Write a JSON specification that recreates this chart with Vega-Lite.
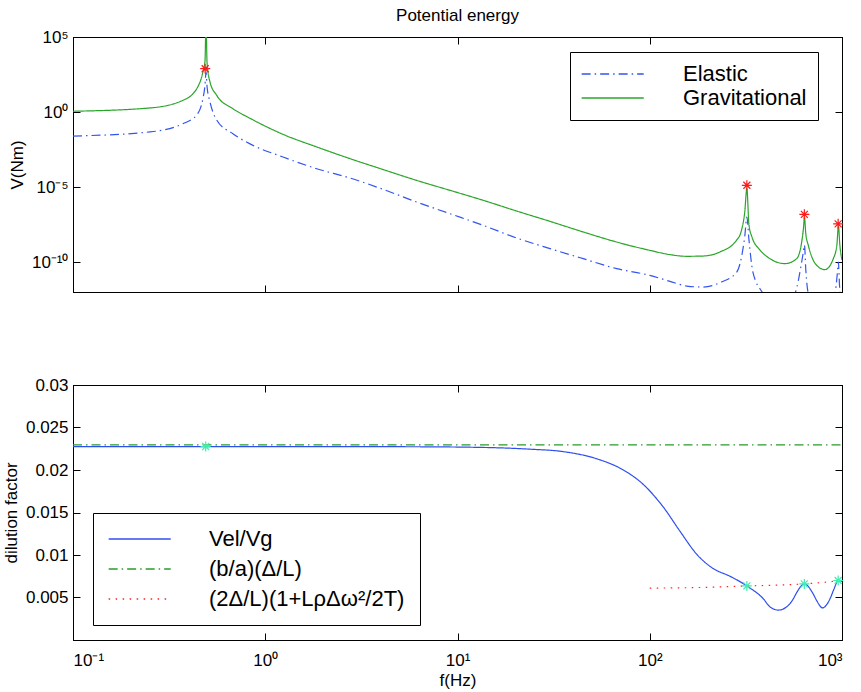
{
  "$schema": "https://vega.github.io/schema/vega-lite/v6.json",
  "background": "white",
  "padding": {"left": 1, "top": 6, "right": 4, "bottom": 0},
  "spacing": 82,
  "config": {
    "font": "Liberation Sans",
    "view": {"stroke": "black", "strokeWidth": 1},
    "axis": {
      "grid": false, "domainColor": "black", "tickColor": "black", "tickSize": -7,
      "labelColor": "black", "labelFontSize": 17, "titleFontSize": 17,
      "titleFontWeight": "normal", "titleColor": "black", "labelFont": "Liberation Sans",
      "titleFont": "Liberation Sans", "labelPadding": 12, "titlePadding": 5
    },
    "title": {"fontSize": 17, "fontWeight": "normal", "font": "Liberation Sans", "color": "black"}
  },
  "vconcat": [
    {
      "width": 769,
      "height": 255,
      "title": {"text": "Potential energy", "offset": 3},
      "layer": [
        {
          "data": {"values": [
            {"f": 0.1, "V": 1.12, "series": "Gravitational"},
            {"f": 0.2515, "V": 1.86, "series": "Gravitational"},
            {"f": 0.373, "V": 6.0, "series": "Gravitational"},
            {"f": 0.44, "V": 35.5, "series": "Gravitational"},
            {"f": 0.474, "V": 468, "series": "Gravitational"},
            {"f": 0.486, "V": 2512, "series": "Gravitational"},
            {"f": 0.492, "V": 1e6, "series": "Gravitational"},
            {"f": 0.498, "V": 1995, "series": "Gravitational"},
            {"f": 0.516, "V": 100, "series": "Gravitational"},
            {"f": 0.559, "V": 12.9, "series": "Gravitational"},
            {"f": 0.679, "V": 1.66, "series": "Gravitational"},
            {"f": 0.833, "V": 0.38, "series": "Gravitational"},
            {"f": 1.237, "V": 0.0324, "series": "Gravitational"},
            {"f": 1.852, "V": 4.68e-3, "series": "Gravitational"},
            {"f": 2.76, "V": 7.76e-4, "series": "Gravitational"},
            {"f": 4.11, "V": 1.45e-4, "series": "Gravitational"},
            {"f": 6.13, "V": 2.75e-5, "series": "Gravitational"},
            {"f": 9.14, "V": 6.0e-6, "series": "Gravitational"},
            {"f": 13.62, "V": 1.29e-6, "series": "Gravitational"},
            {"f": 20.3, "V": 2.5e-7, "series": "Gravitational"},
            {"f": 30.3, "V": 5.1e-8, "series": "Gravitational"},
            {"f": 45.1, "V": 1e-8, "series": "Gravitational"},
            {"f": 67.3, "V": 2.14e-9, "series": "Gravitational"},
            {"f": 100, "V": 6.0e-10, "series": "Gravitational"},
            {"f": 127.5, "V": 3.1e-10, "series": "Gravitational"},
            {"f": 155.7, "V": 2.4e-10, "series": "Gravitational"},
            {"f": 189, "V": 2.5e-10, "series": "Gravitational"},
            {"f": 232, "V": 4.7e-10, "series": "Gravitational"},
            {"f": 283.5, "V": 2.95e-9, "series": "Gravitational"},
            {"f": 300, "V": 1.29e-8, "series": "Gravitational"},
            {"f": 312, "V": 2.14e-7, "series": "Gravitational"},
            {"f": 320, "V": 7.9e-6, "series": "Gravitational"},
            {"f": 328, "V": 3.16e-8, "series": "Gravitational"},
            {"f": 340, "V": 4.7e-9, "series": "Gravitational"},
            {"f": 374.6, "V": 6.3e-10, "series": "Gravitational"},
            {"f": 422, "V": 1.66e-10, "series": "Gravitational"},
            {"f": 505, "V": 7.8e-11, "series": "Gravitational"},
            {"f": 581, "V": 1.66e-10, "series": "Gravitational"},
            {"f": 617, "V": 2.14e-9, "series": "Gravitational"},
            {"f": 630, "V": 1.66e-8, "series": "Gravitational"},
            {"f": 638, "V": 1e-7, "series": "Gravitational"},
            {"f": 648, "V": 7.8e-9, "series": "Gravitational"},
            {"f": 668, "V": 1.29e-9, "series": "Gravitational"},
            {"f": 738, "V": 6.0e-11, "series": "Gravitational"},
            {"f": 815, "V": 3.1e-11, "series": "Gravitational"},
            {"f": 901, "V": 1.66e-10, "series": "Gravitational"},
            {"f": 940, "V": 1.29e-9, "series": "Gravitational"},
            {"f": 958, "V": 2.5e-8, "series": "Gravitational"},
            {"f": 975, "V": 1.26e-9, "series": "Gravitational"},
            {"f": 1000, "V": 1.35e-10, "series": "Gravitational"},
            {"f": 0.1, "V": 0.025, "series": "Elastic"},
            {"f": 0.2515, "V": 0.047, "series": "Elastic"},
            {"f": 0.373, "V": 0.166, "series": "Elastic"},
            {"f": 0.44, "V": 0.63, "series": "Elastic"},
            {"f": 0.474, "V": 7.8, "series": "Elastic"},
            {"f": 0.486, "V": 63, "series": "Elastic"},
            {"f": 0.492, "V": 468, "series": "Elastic"},
            {"f": 0.498, "V": 50, "series": "Elastic"},
            {"f": 0.516, "V": 4.7, "series": "Elastic"},
            {"f": 0.559, "V": 0.295, "series": "Elastic"},
            {"f": 0.679, "V": 0.0355, "series": "Elastic"},
            {"f": 0.833, "V": 7.5e-3, "series": "Elastic"},
            {"f": 1.237, "V": 1e-3, "series": "Elastic"},
            {"f": 1.852, "V": 1.66e-4, "series": "Elastic"},
            {"f": 2.76, "V": 3.98e-5, "series": "Elastic"},
            {"f": 4.11, "V": 6.9e-6, "series": "Elastic"},
            {"f": 6.13, "V": 1e-6, "series": "Elastic"},
            {"f": 9.14, "V": 1.66e-7, "series": "Elastic"},
            {"f": 13.62, "V": 2.75e-8, "series": "Elastic"},
            {"f": 20.3, "V": 4e-9, "series": "Elastic"},
            {"f": 30.3, "V": 7.8e-10, "series": "Elastic"},
            {"f": 45.1, "V": 1.66e-10, "series": "Elastic"},
            {"f": 67.3, "V": 3.6e-11, "series": "Elastic"},
            {"f": 100, "V": 1.29e-11, "series": "Elastic"},
            {"f": 127.5, "V": 5.1e-12, "series": "Elastic"},
            {"f": 155.7, "V": 2.5e-12, "series": "Elastic"},
            {"f": 189, "V": 2.14e-12, "series": "Elastic"},
            {"f": 232, "V": 4.2e-12, "series": "Elastic"},
            {"f": 283.5, "V": 2.14e-11, "series": "Elastic"},
            {"f": 305.5, "V": 7.8e-10, "series": "Elastic"},
            {"f": 312, "V": 5e-9, "series": "Elastic"},
            {"f": 320, "V": 1e-7, "series": "Elastic"},
            {"f": 328, "V": 3.2e-9, "series": "Elastic"},
            {"f": 344, "V": 2.14e-11, "series": "Elastic"},
            {"f": 388, "V": 8e-13, "series": "Elastic"},
            {"f": 460, "V": 3.2e-14, "series": "Elastic"},
            {"f": 569.5, "V": 8e-13, "series": "Elastic"},
            {"f": 617, "V": 1e-10, "series": "Elastic"},
            {"f": 630, "V": 5e-10, "series": "Elastic"},
            {"f": 638, "V": 1.35e-9, "series": "Elastic"},
            {"f": 648, "V": 3.2e-11, "series": "Elastic"},
            {"f": 668, "V": 8e-13, "series": "Elastic"},
            {"f": 780, "V": 3.2e-14, "series": "Elastic"},
            {"f": 919, "V": 8e-13, "series": "Elastic"},
            {"f": 945, "V": 1.6e-11, "series": "Elastic"},
            {"f": 958, "V": 1e-10, "series": "Elastic"},
            {"f": 970, "V": 3.2e-12, "series": "Elastic"},
            {"f": 984, "V": 3.2e-13, "series": "Elastic"},
            {"f": 1000, "V": 1e-13, "series": "Elastic"}
          ]},
          "mark": {"type": "line", "clip": true, "strokeWidth": 1.2, "interpolate": "monotone"},
          "encoding": {
            "x": {"field": "f", "type": "quantitative",
                  "scale": {"type": "log", "domain": [0.1, 1000]},
                  "axis": {"values": [0.1, 1, 10, 100, 1000], "labels": false, "title": null}},
            "y": {"field": "V", "type": "quantitative",
                  "scale": {"type": "log", "domain": [1e-12, 1e5]},
                  "axis": {"values": [1e-10, 1e-5, 1, 1e5], "title": "V(Nm)",
                           "labelExpr": "datum.value < 1e-7 ? '10⁻¹⁰' : datum.value < 0.01 ? '10⁻⁵' : datum.value < 100 ? '10⁰' : '10⁵'"}},
            "color": {"field": "series", "type": "nominal",
                      "scale": {"domain": ["Elastic", "Gravitational"], "range": ["#3355ee", "#2aa52a"]},
                      "legend": {"title": null, "orient": "none", "legendX": 497, "legendY": 15,
                                 "symbolType": "M-1,0L5,0", "symbolSize": 428, "symbolStrokeWidth": 1.3,
                                 "labelFontSize": 22, "labelOffset": 80, "padding": 11, "rowPadding": 2,
                                 "strokeColor": "black", "fillColor": "white", "labelColor": "black",
                                 "labelFont": "Liberation Sans"}},
            "strokeDash": {"field": "series", "type": "nominal",
                           "scale": {"domain": ["Elastic", "Gravitational"], "range": [[9, 4, 1.5, 4], [1, 0]]},
                           "legend": {"title": null, "orient": "none", "legendX": 497, "legendY": 15,
                                      "symbolType": "M-1,0L5,0", "symbolSize": 428, "symbolStrokeWidth": 1.3,
                                      "labelFontSize": 22, "labelOffset": 80, "padding": 11, "rowPadding": 2,
                                      "strokeColor": "black", "fillColor": "white", "labelColor": "black",
                                      "labelFont": "Liberation Sans"}}
          }
        },
        {
          "data": {"values": [
            {"f": 0.487, "V": 770},
            {"f": 320, "V": 1.3e-5},
            {"f": 637, "V": 1.5e-7},
            {"f": 955, "V": 3.5e-8}
          ]},
          "mark": {"type": "point", "shape": "M-1,0L1,0M0,-1L0,1M-0.7,-0.7L0.7,0.7M-0.7,0.7L0.7,-0.7",
                   "filled": false, "size": 100, "strokeWidth": 1.2, "color": "#ff1a1a", "opacity": 1},
          "encoding": {
            "x": {"field": "f", "type": "quantitative",
                  "axis": {"orient": "top", "values": [0.1, 1, 10, 100, 1000], "labels": false, "title": null}},
            "y": {"field": "V", "type": "quantitative",
                  "axis": {"orient": "right", "values": [1e-10, 1e-5, 1, 1e5], "labels": false, "title": null}}
          }
        }
      ],
      "resolve": {"axis": {"x": "independent", "y": "independent"}}
    },
    {
      "width": 769,
      "height": 255,
      "layer": [
        {
          "data": {"values": [
            {"f": 0.1, "D": 0.02276, "series": "Vel/Vg"},
            {"f": 1, "D": 0.02276, "series": "Vel/Vg"},
            {"f": 5, "D": 0.02274, "series": "Vel/Vg"},
            {"f": 10, "D": 0.0227, "series": "Vel/Vg"},
            {"f": 23.8, "D": 0.02245, "series": "Vel/Vg"},
            {"f": 35.5, "D": 0.02216, "series": "Vel/Vg"},
            {"f": 53, "D": 0.02132, "series": "Vel/Vg"},
            {"f": 72.9, "D": 0.0200, "series": "Vel/Vg"},
            {"f": 92.6, "D": 0.0183, "series": "Vel/Vg"},
            {"f": 117.6, "D": 0.01564, "series": "Vel/Vg"},
            {"f": 143.6, "D": 0.0128, "series": "Vel/Vg"},
            {"f": 175.4, "D": 0.0101, "series": "Vel/Vg"},
            {"f": 214, "D": 0.0084, "series": "Vel/Vg"},
            {"f": 261.5, "D": 0.0075, "series": "Vel/Vg"},
            {"f": 320, "D": 0.00636, "series": "Vel/Vg"},
            {"f": 390, "D": 0.00484, "series": "Vel/Vg"},
            {"f": 422, "D": 0.0039, "series": "Vel/Vg"},
            {"f": 466, "D": 0.00352, "series": "Vel/Vg"},
            {"f": 515.6, "D": 0.0039, "series": "Vel/Vg"},
            {"f": 558, "D": 0.00484, "series": "Vel/Vg"},
            {"f": 581, "D": 0.00557, "series": "Vel/Vg"},
            {"f": 637, "D": 0.0066, "series": "Vel/Vg"},
            {"f": 709, "D": 0.0054, "series": "Vel/Vg"},
            {"f": 738.5, "D": 0.00463, "series": "Vel/Vg"},
            {"f": 793, "D": 0.00378, "series": "Vel/Vg"},
            {"f": 832, "D": 0.00415, "series": "Vel/Vg"},
            {"f": 866, "D": 0.00484, "series": "Vel/Vg"},
            {"f": 908.7, "D": 0.0060, "series": "Vel/Vg"},
            {"f": 955, "D": 0.0070, "series": "Vel/Vg"},
            {"f": 1000, "D": 0.0069, "series": "Vel/Vg"},
            {"f": 0.1, "D": 0.02295, "series": "(b/a)(Δ/L)"},
            {"f": 1000, "D": 0.02295, "series": "(b/a)(Δ/L)"},
            {"f": 100, "D": 0.0061, "series": "(2Δ/L)(1+LρΔω²/2T)"},
            {"f": 200, "D": 0.0062, "series": "(2Δ/L)(1+LρΔω²/2T)"},
            {"f": 320, "D": 0.00636, "series": "(2Δ/L)(1+LρΔω²/2T)"},
            {"f": 450, "D": 0.00645, "series": "(2Δ/L)(1+LρΔω²/2T)"},
            {"f": 637, "D": 0.0066, "series": "(2Δ/L)(1+LρΔω²/2T)"},
            {"f": 800, "D": 0.00678, "series": "(2Δ/L)(1+LρΔω²/2T)"},
            {"f": 1000, "D": 0.0070, "series": "(2Δ/L)(1+LρΔω²/2T)"}
          ]},
          "mark": {"type": "line", "clip": true, "strokeWidth": 1.2, "interpolate": "monotone"},
          "encoding": {
            "x": {"field": "f", "type": "quantitative",
                  "scale": {"type": "log", "domain": [0.1, 1000]},
                  "axis": {"values": [0.1, 1, 10, 100, 1000], "title": "f(Hz)", "labelPadding": 19, "titlePadding": 4,
                           "labelExpr": "datum.value < 0.5 ? '10⁻¹' : datum.value < 5 ? '10⁰' : datum.value < 50 ? '10¹' : datum.value < 500 ? '10²' : '10³'"}},
            "y": {"field": "D", "type": "quantitative",
                  "scale": {"domain": [0.001, 0.03]},
                  "axis": {"values": [0.005, 0.01, 0.015, 0.02, 0.025, 0.03], "format": "~g", "title": "dilution factor"}},
            "color": {"field": "series", "type": "nominal",
                      "scale": {"domain": ["Vel/Vg", "(b/a)(Δ/L)", "(2Δ/L)(1+LρΔω²/2T)"], "range": ["#2e4ff0", "#2a9a2a", "#ff2020"]},
                      "legend": {"title": null, "orient": "none", "legendX": 20, "legendY": 128,
                                 "symbolType": "M-1,0L5,0", "symbolSize": 428, "symbolStrokeWidth": 1.3,
                                 "labelFontSize": 22, "labelOffset": 79, "padding": 15, "rowPadding": 8,
                                 "strokeColor": "black", "fillColor": "white", "labelColor": "black",
                                 "labelFont": "Liberation Sans", "labelLimit": 400}},
            "strokeDash": {"field": "series", "type": "nominal",
                           "scale": {"domain": ["Vel/Vg", "(b/a)(Δ/L)", "(2Δ/L)(1+LρΔω²/2T)"], "range": [[1, 0], [9, 4, 1.5, 4], [1.5, 5.5]]},
                           "legend": {"title": null, "orient": "none", "legendX": 20, "legendY": 128,
                                      "symbolType": "M-1,0L5,0", "symbolSize": 428, "symbolStrokeWidth": 1.3,
                                      "labelFontSize": 22, "labelOffset": 79, "padding": 15, "rowPadding": 8,
                                      "strokeColor": "black", "fillColor": "white", "labelColor": "black",
                                      "labelFont": "Liberation Sans", "labelLimit": 400}}
          }
        },
        {
          "data": {"values": [
            {"f": 0.49, "D": 0.02276},
            {"f": 320, "D": 0.00636},
            {"f": 637, "D": 0.0066},
            {"f": 955, "D": 0.0070}
          ]},
          "mark": {"type": "point", "shape": "M-1,0L1,0M0,-1L0,1M-0.7,-0.7L0.7,0.7M-0.7,0.7L0.7,-0.7",
                   "filled": false, "size": 100, "strokeWidth": 1.2, "color": "#40eeb0", "opacity": 1},
          "encoding": {
            "x": {"field": "f", "type": "quantitative",
                  "axis": {"orient": "top", "values": [0.1, 1, 10, 100, 1000], "labels": false, "title": null}},
            "y": {"field": "D", "type": "quantitative",
                  "axis": {"orient": "right", "values": [0.005, 0.01, 0.015, 0.02, 0.025, 0.03], "labels": false, "title": null}}
          }
        }
      ],
      "resolve": {"axis": {"x": "independent", "y": "independent"}}
    }
  ],
  "resolve": {"scale": {"color": "independent", "strokeDash": "independent", "x": "independent", "y": "independent"}}
}
